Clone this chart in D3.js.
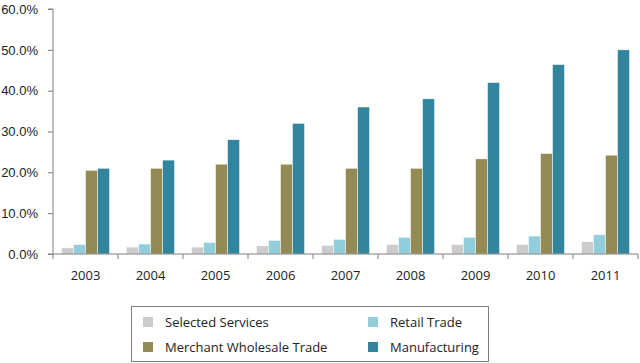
<!DOCTYPE html>
<html lang="en">
<head>
<meta charset="UTF-8">
<title>Share by sector</title>
<script src="https://d3js.org/d3.v7.min.js"></script>
<style>
    body { margin: 0; background: #fff; overflow: hidden; }
    svg { display: block; font-family: "Open Sans", "Noto Sans", sans-serif; }
    .axis text { font-size: 13px; fill: #222; }
    .axis path, .axis line { stroke: #7f7f7f; }
    .legend text { font-size: 13px; fill: #222; }
</style>
</head>
<body>
<script>
// data
const years = ["2003", "2004", "2005", "2006", "2007", "2008", "2009", "2010", "2011"];
const seriesNames = ["Selected Services", "Retail Trade", "Merchant Wholesale Trade", "Manufacturing"];
const seriesColors = ["#cccccc", "#92cddc", "#948a54", "#31859c"];
const selectedServices = [1.5, 1.7, 1.7, 2.0, 2.1, 2.35, 2.35, 2.35, 3.0];
const retailTrade = [2.3, 2.45, 2.8, 3.35, 3.6, 4.1, 4.1, 4.4, 4.7];
const wholesaleTrade = [20.5, 21.0, 22.0, 22.0, 21.0, 21.0, 23.3, 24.6, 24.2];
const manufacturing = [21.0, 23.0, 28.0, 32.0, 36.0, 38.0, 42.0, 46.4, 50.0];
const yTicks = [0, 10, 20, 30, 40, 50, 60];

const allSeries = [selectedServices, retailTrade, wholesaleTrade, manufacturing];

const width = 640, height = 363;
const svg = d3.select("body").append("svg")
    .attr("width", width)
    .attr("height", height);

const x0 = d3.scaleBand()
    .domain(years)
    .range([53, 638])
    .paddingInner(0.26)
    .paddingOuter(0.13);

const x1 = d3.scaleBand()
    .domain(d3.range(4))
    .range([0, x0.bandwidth()]);

const y = d3.scaleLinear()
    .domain([0, 60])
    .range([254, 9]);

// bars
const groups = svg.append("g").selectAll("g")
    .data(years)
    .join("g")
    .attr("transform", d => `translate(${x0(d)},0)`);

groups.selectAll("rect")
    .data((d, i) => allSeries.map((s, k) => ({ k: k, v: s[i] })))
    .join("rect")
    .attr("x", d => x1(d.k))
    .attr("y", d => y(d.v))
    .attr("width", x1.bandwidth())
    .attr("height", d => y(0) - y(d.v))
    .attr("fill", d => seriesColors[d.k])
    .attr("stroke", "#fff")
    .attr("stroke-width", 0.5);

// y axis
svg.append("g")
    .attr("class", "axis")
    .attr("transform", "translate(53,0)")
    .call(d3.axisLeft(y).tickValues(yTicks).tickSize(5).tickPadding(10)
        .tickFormat(d => d.toFixed(1) + "%"))
    .call(g => g.select(".domain").attr("d", "M-5,9H0V254H-5"));

// x axis with ticks between categories
const xa = svg.append("g")
    .attr("class", "axis")
    .attr("transform", "translate(0,254)");
xa.append("line").attr("x1", 53).attr("x2", 638).attr("stroke", "#7f7f7f");
const step = x0.step();
xa.selectAll(".tk")
    .data(d3.range(years.length + 1))
    .join("line")
    .attr("x1", i => 53 + i * step)
    .attr("x2", i => 53 + i * step)
    .attr("y1", 0).attr("y2", 5)
    .attr("stroke", "#7f7f7f");
xa.selectAll(".lab")
    .data(years)
    .join("text")
    .attr("x", d => x0(d) + x0.bandwidth() / 2)
    .attr("y", 26)
    .attr("text-anchor", "middle")
    .text(d => d);

// legend
const legend = svg.append("g").attr("class", "legend");
legend.append("rect")
    .attr("x", 131.5).attr("y", 306.5)
    .attr("width", 357).attr("height", 55)
    .attr("fill", "none").attr("stroke", "#7f7f7f");

const legPos = [[143, 322], [368, 322], [143, 347], [368, 347]];
seriesNames.forEach((name, k) => {
    const [lx, ly] = legPos[k];
    legend.append("rect")
        .attr("x", lx).attr("y", ly - 5)
        .attr("width", 10).attr("height", 10)
        .attr("fill", seriesColors[k]);
    legend.append("text")
        .attr("x", lx + 22).attr("y", ly)
        .attr("dy", "0.35em")
        .text(name);
});
</script>
</body>
</html>
